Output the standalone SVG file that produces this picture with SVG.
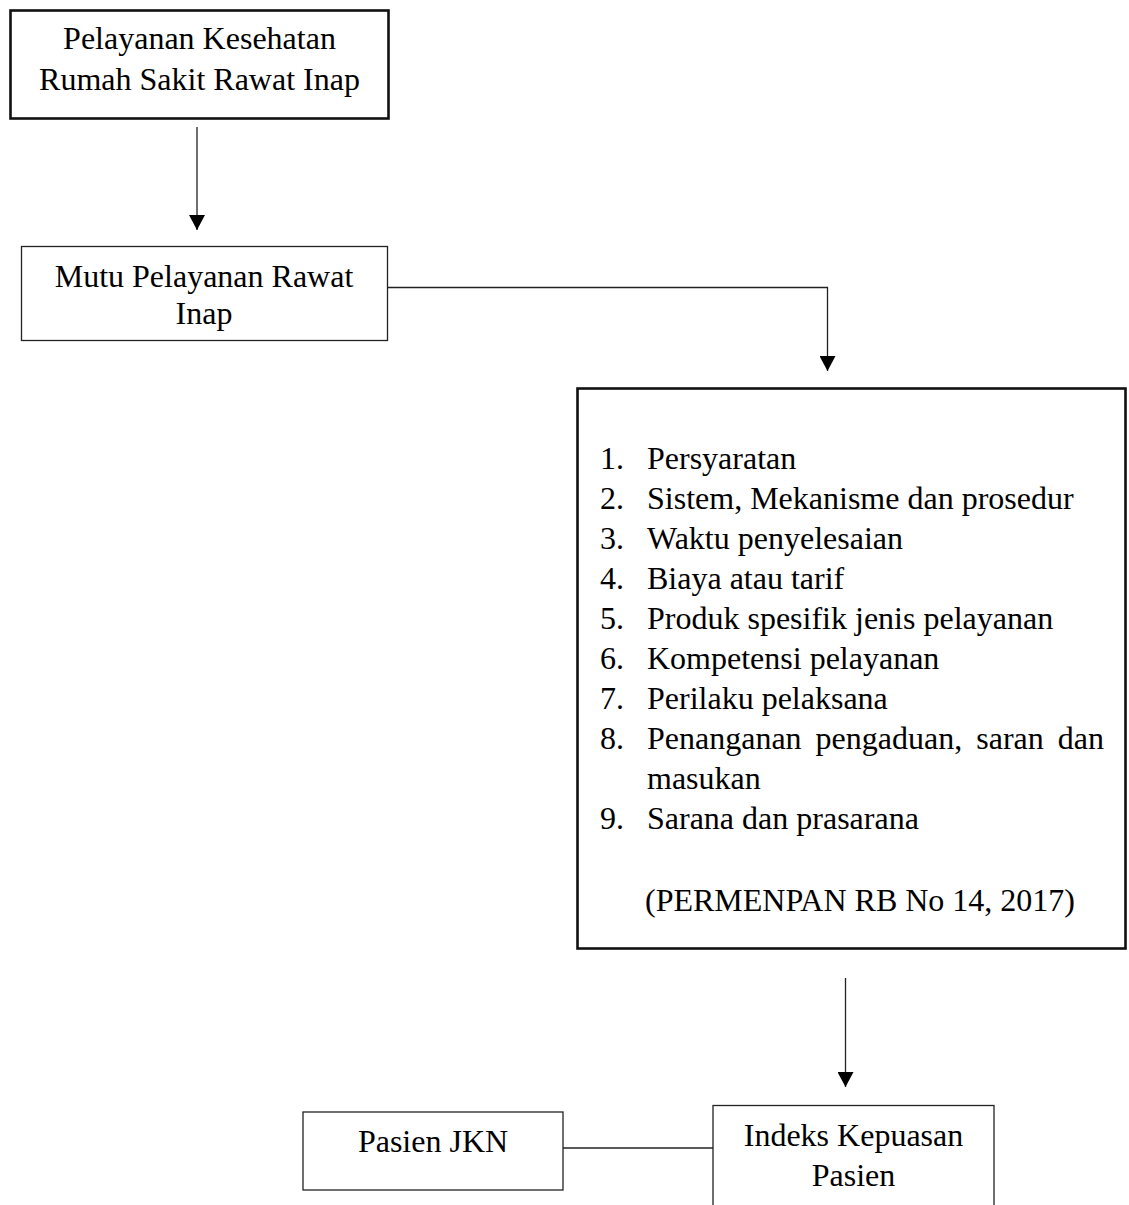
<svg xmlns="http://www.w3.org/2000/svg" width="1129" height="1205" viewBox="0 0 1129 1205">
  <style>
    .t { font-family: "Liberation Serif", "Times New Roman", serif; font-size: 32px; fill: #000; }
    .c { text-anchor: middle; }
    .thin { fill: #fff; stroke: #222; stroke-width: 1.3; }
    .thick { fill: #fff; stroke: #111; stroke-width: 2.6; }
    .conn { fill: none; stroke: #222; stroke-width: 1.3; }
  </style>
  <defs>
    <marker id="arrow" viewBox="0 0 15 16" refX="15" refY="8" markerWidth="15" markerHeight="16" markerUnits="userSpaceOnUse" orient="auto">
      <path d="M0,0 L15,8 L0,16 z" fill="#000"/>
    </marker>
  </defs>
  <rect width="1129" height="1205" fill="#fff"/>

  <g id="connectors">
    <line class="conn" x1="197" y1="127" x2="197" y2="230" marker-end="url(#arrow)"/>
    <path class="conn" d="M387,287.5 H827.5 V371" marker-end="url(#arrow)"/>
    <line class="conn" x1="845.5" y1="978" x2="845.5" y2="1087" marker-end="url(#arrow)"/>
    <line class="conn" x1="563" y1="1148" x2="713" y2="1148"/>
  </g>

  <g id="node-pelayanan">
    <rect class="thick" x="10.5" y="10.5" width="378" height="108"/>
    <text class="t c" x="199.5" y="49">Pelayanan Kesehatan</text>
    <text class="t c" x="199.5" y="90">Rumah Sakit Rawat Inap</text>
  </g>

  <g id="node-mutu">
    <rect class="thin" x="21.5" y="246.5" width="366" height="94"/>
    <text class="t c" x="204" y="287">Mutu Pelayanan Rawat</text>
    <text class="t c" x="204" y="324">Inap</text>
  </g>

  <g id="node-dimensi">
    <rect class="thick" x="577.5" y="388.5" width="548" height="560"/>
    <text class="t" x="600" y="469">1.</text><text class="t" x="647" y="469">Persyaratan</text>
    <text class="t" x="600" y="509">2.</text><text class="t" x="647" y="509">Sistem, Mekanisme dan prosedur</text>
    <text class="t" x="600" y="549">3.</text><text class="t" x="647" y="549">Waktu penyelesaian</text>
    <text class="t" x="600" y="589">4.</text><text class="t" x="647" y="589">Biaya atau tarif</text>
    <text class="t" x="600" y="629">5.</text><text class="t" x="647" y="629">Produk spesifik jenis pelayanan</text>
    <text class="t" x="600" y="669">6.</text><text class="t" x="647" y="669">Kompetensi pelayanan</text>
    <text class="t" x="600" y="709">7.</text><text class="t" x="647" y="709">Perilaku pelaksana</text>
    <text class="t" x="600" y="749">8.</text><text class="t" x="647" y="749" word-spacing="6">Penanganan pengaduan, saran dan</text>
    <text class="t" x="647" y="789">masukan</text>
    <text class="t" x="600" y="829">9.</text><text class="t" x="647" y="829">Sarana dan prasarana</text>
    <text class="t" x="645" y="911">(PERMENPAN RB No 14, 2017)</text>
  </g>

  <g id="node-pasien-jkn">
    <rect class="thin" x="303" y="1112" width="260" height="78"/>
    <text class="t c" x="433" y="1152">Pasien JKN</text>
  </g>

  <g id="node-indeks">
    <rect class="thin" x="713" y="1105.5" width="281" height="110"/>
    <text class="t c" x="853.5" y="1146">Indeks Kepuasan</text>
    <text class="t c" x="853.5" y="1186">Pasien</text>
  </g>
</svg>
